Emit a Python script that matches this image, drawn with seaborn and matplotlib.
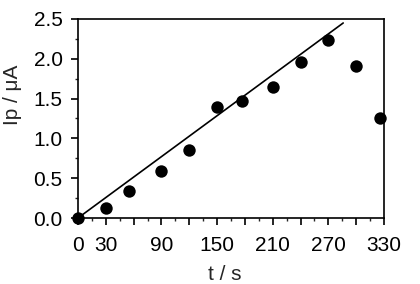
import matplotlib
matplotlib.use("Agg")
import matplotlib.pyplot as plt
import seaborn as sns
import pandas as pd
from matplotlib.ticker import MultipleLocator, FuncFormatter

t_s = [0, 30, 55, 90, 120, 150, 177, 210, 240, 270, 300, 326]
ip_uA = [0.0, 0.13, 0.34, 0.59, 0.86, 1.39, 1.47, 1.64, 1.96, 2.23, 1.91, 1.25]
fit_t = [0, 286]
fit_ip = [0.0, 2.45]
xtick_labels_shown = [0, 30, 90, 150, 210, 270, 330]

sns.set_theme(style="ticks")
plt.rcParams['font.family'] = ['Liberation Sans', 'DejaVu Sans']

df = pd.DataFrame({"t": t_s, "ip": ip_uA})
fit = pd.DataFrame({"t": fit_t, "ip": fit_ip})

fig = plt.figure(figsize=(4.2, 2.84), dpi=100)
ax = fig.add_axes([78/420, (284-218)/284, 306/420, 199/284])

sns.lineplot(data=fit, x="t", y="ip", ax=ax, color="black", linewidth=1.2)
sns.scatterplot(data=df, x="t", y="ip", ax=ax, color="black", s=80,
                edgecolor="black", linewidth=0, zorder=3, clip_on=False)

ax.set_xlim(0, 330)
ax.set_ylim(0, 2.5)
ax.xaxis.set_major_locator(MultipleLocator(30))
ax.xaxis.set_minor_locator(MultipleLocator(15))
ax.xaxis.set_major_formatter(FuncFormatter(
    lambda v, p: f"{int(round(v))}" if int(round(v)) in xtick_labels_shown else ""))
ax.yaxis.set_major_locator(MultipleLocator(0.5))
ax.yaxis.set_minor_locator(MultipleLocator(0.25))
ax.yaxis.set_major_formatter(FuncFormatter(lambda v, p: f"{v:.1f}"))

ax.tick_params(which="major", direction="out", length=5, width=1.2,
               labelsize=15, colors="black")
ax.tick_params(axis="x", which="major", pad=8)
ax.tick_params(axis="y", which="major", pad=6)
ax.tick_params(which="minor", direction="out", length=2.5, width=1.0)
for s in ax.spines.values():
    s.set_linewidth(1.2)
    s.set_color("black")

ax.set_xlabel("t / s", fontsize=15)
ax.set_ylabel("Ip / μA", fontsize=15)
ax.xaxis.set_label_coords(0.48, -0.235)
ax.yaxis.set_label_coords(-0.183, 0.62)

fig.savefig("out.png", dpi=100)
